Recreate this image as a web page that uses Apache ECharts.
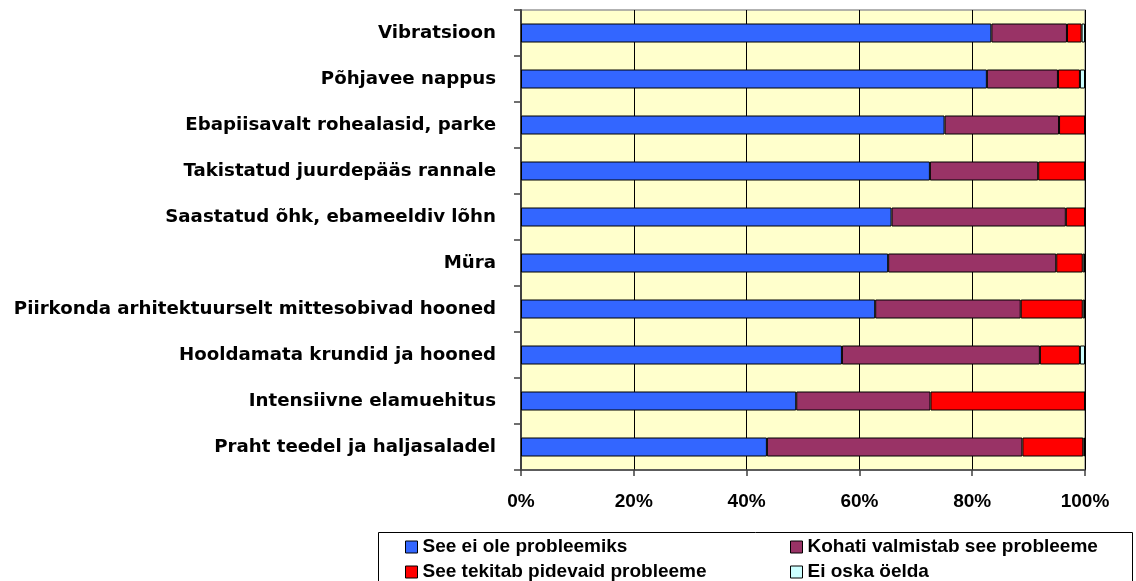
<!DOCTYPE html>
<html>
<head>
<meta charset="utf-8">
<script src="https://cdn.jsdelivr.net/npm/echarts@6/dist/echarts.min.js"></script>
<style>html,body{margin:0;padding:0;background:#fff}#c{width:1136px;height:581px}</style>
</head>
<body>
<div id="c"></div>
<script>
var categories = [
  "Vibratsioon",
  "Põhjavee nappus",
  "Ebapiisavalt rohealasid, parke",
  "Takistatud juurdepääs rannale",
  "Saastatud õhk, ebameeldiv lõhn",
  "Müra",
  "Piirkonda arhitektuurselt mittesobivad hooned",
  "Hooldamata krundid ja hooned",
  "Intensiivne elamuehitus",
  "Praht teedel ja haljasaladel"
];
var seriesNames = [
  "See ei ole probleemiks",
  "Kohati valmistab see probleeme",
  "See tekitab pidevaid probleeme",
  "Ei oska öelda"
];
var notProblem   = [83.4, 82.6, 75.1, 72.5, 65.7, 65.1, 62.8, 56.9, 48.8, 43.6];
var sometimes    = [13.4, 12.6, 20.3, 19.2, 30.9, 29.8, 25.8, 35.1, 23.8, 45.3];
var constant     = [2.6, 3.9, 4.6, 8.3, 3.4, 4.7, 11.0, 7.1, 27.4, 10.8];
var dontKnow     = [0.6, 0.9, 0.0, 0.0, 0.0, 0.4, 0.4, 0.9, 0.0, 0.3];
var xTicks = [0, 20, 40, 60, 80, 100];

var colors = ["#3366FF", "#993366", "#FF0000", "#CCFFFF"];
var values = [notProblem, sometimes, constant, dontKnow];

var chart = echarts.init(document.getElementById('c'), null, {renderer: 'canvas'});
var series = seriesNames.map(function (n, i) {
  return {
    name: n,
    type: 'bar',
    stack: 'total',
    barWidth: 19,
    data: values[i],
    itemStyle: {color: colors[i], borderColor: '#000', borderWidth: 1},
    emphasis: {disabled: true}
  };
});

var legendText = {fontFamily: 'Liberation Sans, Arial, sans-serif', fontWeight: 'bold', fontSize: 19, color: '#000', lineHeight: 20};

chart.setOption({
  animation: false,
  backgroundColor: '#fff',
  color: colors,
  grid: {
    left: 521, right: 51, top: 10, bottom: 111,
    show: true, backgroundColor: '#FFFFCC', borderColor: '#999', borderWidth: 1.5,
    containLabel: false
  },
  xAxis: {
    type: 'value',
    min: xTicks[0], max: xTicks[xTicks.length - 1], interval: xTicks[1] - xTicks[0],
    axisLine: {show: true, lineStyle: {color: '#404040', width: 1.5}},
    axisTick: {show: true, length: 6, lineStyle: {color: '#404040', width: 1.5}},
    splitLine: {show: true, lineStyle: {color: '#000', width: 1}},
    axisLabel: {
      formatter: '{value}%', margin: 22, color: '#000',
      fontFamily: 'Liberation Sans, Arial, sans-serif', fontWeight: 'bold', fontSize: 19
    }
  },
  yAxis: {
    type: 'category',
    data: categories,
    inverse: true,
    axisLine: {show: true, lineStyle: {color: '#404040', width: 2}},
    axisTick: {show: true, length: 7, lineStyle: {color: '#404040', width: 1.5}},
    splitLine: {show: false},
    axisLabel: {
      margin: 25, color: '#000',
      fontFamily: 'DejaVu Sans, sans-serif', fontWeight: 'bold', fontSize: 18.2
    }
  },
  legend: [
    {
      data: [seriesNames[0], seriesNames[2]],
      orient: 'vertical', left: 405, top: 537, width: 360, height: 80, padding: 0, itemGap: 5,
      itemWidth: 12, itemHeight: 12, itemStyle: {borderColor: '#000', borderWidth: 1},
      textStyle: legendText, icon: 'rect'
    },
    {
      data: [seriesNames[1], seriesNames[3]],
      orient: 'vertical', left: 790, top: 537, width: 340, height: 80, padding: 0, itemGap: 5,
      itemWidth: 12, itemHeight: 12, itemStyle: {borderColor: '#000', borderWidth: 1},
      textStyle: legendText, icon: 'rect'
    }
  ],
  graphic: [
    {
      type: 'rect', silent: true, z: -1,
      shape: {x: 378.5, y: 532.5, width: 754, height: 60},
      style: {fill: '#fff', stroke: '#000', lineWidth: 1}
    }
  ],
  series: series
});
</script>
</body>
</html>
